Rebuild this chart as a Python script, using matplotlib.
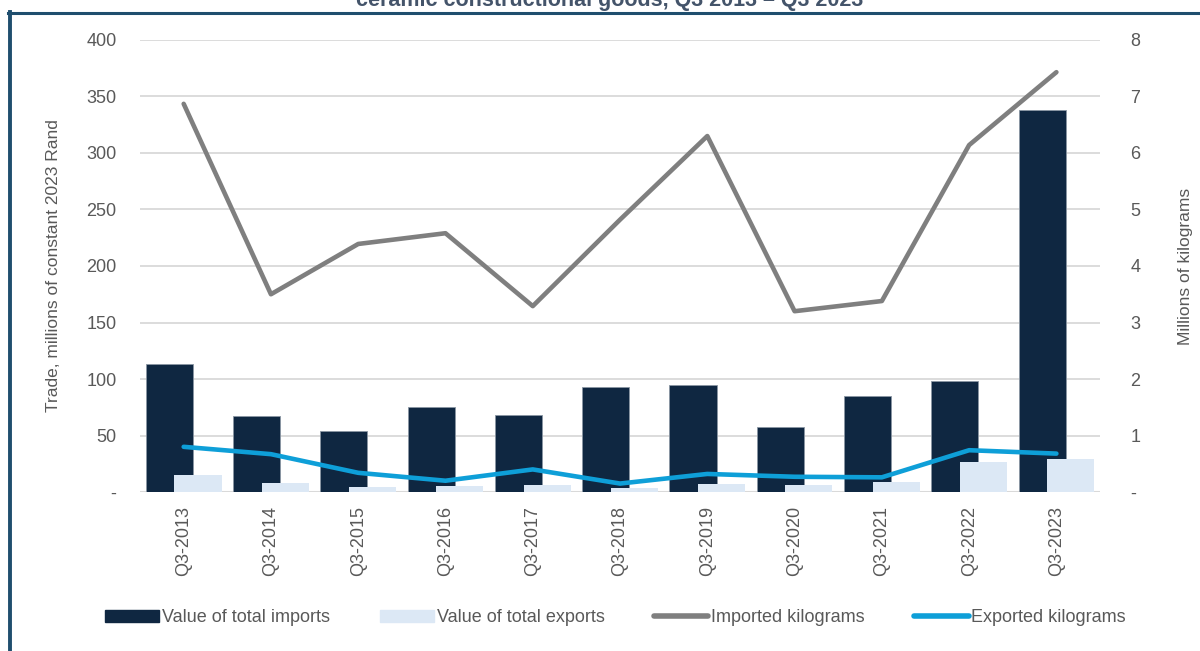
import matplotlib.pyplot as plt
import numpy as np
from matplotlib.lines import Line2D
from matplotlib.ticker import FuncFormatter

years = ["Q3-2013", "Q3-2014", "Q3-2015", "Q3-2016", "Q3-2017", "Q3-2018",
         "Q3-2019", "Q3-2020", "Q3-2021", "Q3-2022", "Q3-2023"]
imports_val = [113, 67, 54, 75, 68.5, 92.5, 94.5, 57.5, 85, 98, 338]   # R millions
exports_val = [15.5, 8, 4.5, 5.5, 6, 3.5, 7.5, 6, 9, 26.5, 29.5]
imported_kg = [6.87, 3.50, 4.39, 4.58, 3.29, 4.82, 6.30, 3.20, 3.38, 6.14, 7.43]  # millions of kg
exported_kg = [0.80, 0.67, 0.34, 0.20, 0.40, 0.15, 0.32, 0.27, 0.26, 0.74, 0.68]

c_imp = "#0F2741"
c_exp = "#DCE8F5"
c_ikg = "#7F7F7F"
c_ekg = "#0E9FD8"
txt = "#595959"

plt.rcParams['font.family'] = ['Liberation Sans', 'DejaVu Sans']
plt.rcParams['ytick.major.pad'] = 17
plt.rcParams['ytick.major.size'] = 0

fig = plt.figure(figsize=(12, 6.51), dpi=100)
ax = fig.add_axes([0.1167, 0.2442, 0.8, 0.6944])
ax2 = ax.twinx()

x = np.arange(len(years))
w = 0.54
off = 0.164
ax.bar(x - off, imports_val, w, color=c_imp, edgecolor="#8a96a3", linewidth=0.6, zorder=2)
ax.bar(x + off, exports_val, w, color=c_exp, zorder=3)

ax2.plot(x, imported_kg, color=c_ikg, lw=3.3, solid_capstyle='round', solid_joinstyle='round', zorder=4)
ax2.plot(x, exported_kg, color=c_ekg, lw=3.3, solid_capstyle='round', solid_joinstyle='round', zorder=4)

ax.set_xlim(-0.5, len(years) - 0.5)
ax.set_ylim(0, 400)
ax2.set_ylim(0, 8)
ax.set_yticks(np.arange(0, 401, 50))
ax2.set_yticks(np.arange(0, 9, 1))
ax.yaxis.set_major_formatter(FuncFormatter(lambda v, p: "-" if v == 0 else f"{v:.0f}"))
ax2.yaxis.set_major_formatter(FuncFormatter(lambda v, p: "-" if v == 0 else f"{v:.0f}"))

ax.set_xticks(x)
ax.set_xticklabels(years, rotation=90, fontsize=13, color=txt)
ax.tick_params(axis='x', length=0, pad=10)
ax.tick_params(axis='y', labelsize=13, labelcolor=txt)
ax2.tick_params(axis='y', labelsize=13, labelcolor=txt, pad=22)

ax.yaxis.grid(True, color="#D9D9D9", lw=1.3)
ax.set_axisbelow(True)
for a in (ax, ax2):
    for s in ("top", "left", "right", "bottom"):
        a.spines[s].set_visible(False)
ax.axhline(0, color="#D9D9D9", lw=1.5, zorder=1)

ax.set_ylabel("Trade, millions of constant 2023 Rand", fontsize=12.5, color=txt, labelpad=18)
ax2.set_ylabel("Millions of kilograms", fontsize=12.5, color=txt, labelpad=27)

handles = [
    plt.Rectangle((0, 0), 1, 1, color=c_imp),
    plt.Rectangle((0, 0), 1, 1, color=c_exp),
    Line2D([], [], color=c_ikg, lw=4, solid_capstyle='round'),
    Line2D([], [], color=c_ekg, lw=4, solid_capstyle='round'),
]
labels = ["Value of total imports", "Value of total exports", "Imported kilograms", "Exported kilograms"]
fig.legend(handles, labels, loc='center', bbox_to_anchor=(0.513, 0.051), ncol=4, frameon=False,
           prop={'size': 13}, labelcolor=txt, handlelength=3.0, handleheight=0.7,
           handletextpad=0.15, columnspacing=2.75)

# frame lines and clipped title
fig.add_artist(Line2D([8 / 1200, 1], [1 - 12.5 / 651] * 2, color="#1F4E6E", lw=2.2, transform=fig.transFigure))
fig.add_artist(Line2D([10 / 1200] * 2, [0, 1 - 11.5 / 651], color="#1F4E6E", lw=2.8, transform=fig.transFigure))
fig.text(0.508, 1 - 6 / 651, "ceramic constructional goods, Q3 2013 \u2013 Q3 2023", ha='center', va='baseline',
         fontsize=15.5, fontweight='bold', color="#44546A")

fig.savefig("out.png", dpi=100)
